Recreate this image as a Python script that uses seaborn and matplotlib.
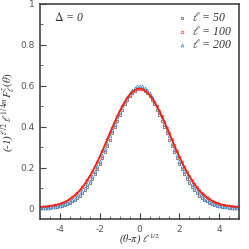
import pandas as pd
import matplotlib
matplotlib.use("Agg")
import matplotlib.pyplot as plt
import seaborn as sns
from matplotlib.ticker import MultipleLocator

# values, right half (curves are symmetric about 0)
x_half = [0.0, 0.125, 0.25, 0.375, 0.5, 0.625, 0.75, 0.875, 1.0, 1.125, 1.25,
          1.375, 1.5, 1.625, 1.75, 1.875, 2.0, 2.125, 2.25, 2.375, 2.5,
          2.625, 2.75, 2.875, 3.0, 3.125, 3.25, 3.375, 3.5, 3.625, 3.75,
          3.875, 4.0, 4.125, 4.25, 4.375, 4.5, 4.625, 4.75, 4.875, 5.0]
y_l50 = [0.585, 0.583, 0.576, 0.565, 0.550, 0.532, 0.510, 0.485, 0.458, 0.429, 0.399,
         0.368, 0.337, 0.306, 0.276, 0.247, 0.220, 0.193, 0.169, 0.147, 0.126,
         0.108, 0.092, 0.077, 0.064, 0.053, 0.044, 0.036, 0.029, 0.024, 0.019,
         0.015, 0.012, 0.010, 0.008, 0.007, 0.006, 0.005, 0.005, 0.004, 0.004]
y_l100 = [0.587, 0.585, 0.579, 0.570, 0.557, 0.541, 0.522, 0.500, 0.477, 0.451, 0.424,
          0.396, 0.368, 0.339, 0.310, 0.282, 0.255, 0.229, 0.205, 0.182, 0.160,
          0.140, 0.122, 0.105, 0.090, 0.077, 0.066, 0.056, 0.048, 0.040, 0.034,
          0.029, 0.025, 0.021, 0.018, 0.016, 0.014, 0.012, 0.011, 0.010, 0.009]
y_l200 = [0.600, 0.598, 0.591, 0.581, 0.566, 0.547, 0.526, 0.501, 0.474, 0.446, 0.416,
          0.385, 0.354, 0.323, 0.292, 0.263, 0.235, 0.208, 0.183, 0.160, 0.138,
          0.119, 0.102, 0.086, 0.072, 0.061, 0.050, 0.042, 0.034, 0.028, 0.022,
          0.018, 0.014, 0.012, 0.010, 0.008, 0.007, 0.006, 0.006, 0.005, 0.005]
labels = [r"$\ell$ = 50", r"$\ell$ = 100", r"$\ell$ = 200"]
colors = ["#555555", "#d9442e", "#3f86c8"]
markers = ["s", "o", "^"]


def mirror(vals):
    return vals[:0:-1] + vals


x = [-v for v in x_half[:0:-1]] + x_half

sns.set_style("ticks")
plt.rcParams["font.family"] = ["Liberation Serif", "DejaVu Serif"]
plt.rcParams["mathtext.fontset"] = "stix"

fig = plt.figure(figsize=(2.49, 2.49), dpi=100)
ax = fig.add_axes([0.161, 0.12, 0.799, 0.864])

# solid red curve (l = 100) drawn under the markers
sns.lineplot(x=x, y=mirror(y_l100), color="#e8251c", lw=1.3, ax=ax, legend=False)

for ys, lab, c, m in zip([y_l50, y_l100, y_l200], labels, colors, markers):
    d = pd.DataFrame({"x": x, "y": mirror(ys)})
    sns.scatterplot(data=d, x="x", y="y", marker=m, s=4, facecolor="white",
                    edgecolor=c, linewidth=0.5, label=lab, ax=ax)

ax.set_xlim(-5, 5)
ax.set_ylim(-0.05, 1.0)
ax.set_xticks([-4, -2, 0, 2, 4])
ax.set_xticklabels(["-4", "-2", "0", "2", "4"])
ax.set_yticks([0, 0.2, 0.4, 0.6, 0.8, 1.0])
ax.set_yticklabels(["0", "0.2", "0.4", "0.6", "0.8", "1"])
ax.xaxis.set_minor_locator(MultipleLocator(0.5))
ax.yaxis.set_minor_locator(MultipleLocator(0.1))
ax.tick_params(which="both", direction="in", colors="#444444", labelcolor="#555555",
               labelsize=6.5, labelfontfamily="DejaVu Sans", pad=4)
ax.tick_params(which="major", length=4, width=0.8)
ax.tick_params(which="minor", length=2, width=0.6)
for sp in ax.spines.values():
    sp.set_color("#444444")
    sp.set_linewidth(1.2)

ax.set_xlabel(r"($\theta$-$\pi$) $\ell^{1/2}$", fontsize=7.5, style="italic",
              labelpad=-1, color="#333333")
ax.set_ylabel(r"(-1)$^{\,\ell/2}\,\ell^{1/4m}F^{z}_{\ell}(\theta)$", fontsize=8,
              style="italic", labelpad=2, color="#333333")
ax.text(-4.3, 0.915, r"$\mathit{\Delta}$ = 0", fontsize=8.5, style="italic",
        color="#333333")

leg = ax.legend(loc="upper right", frameon=False, fontsize=8.5, handletextpad=0.4,
                borderaxespad=0.2, labelspacing=0.05, markerscale=1.0, handlelength=0.8)
for t in leg.get_texts():
    t.set_style("italic")
    t.set_color("#333333")

fig.savefig("out.png", dpi=100)
